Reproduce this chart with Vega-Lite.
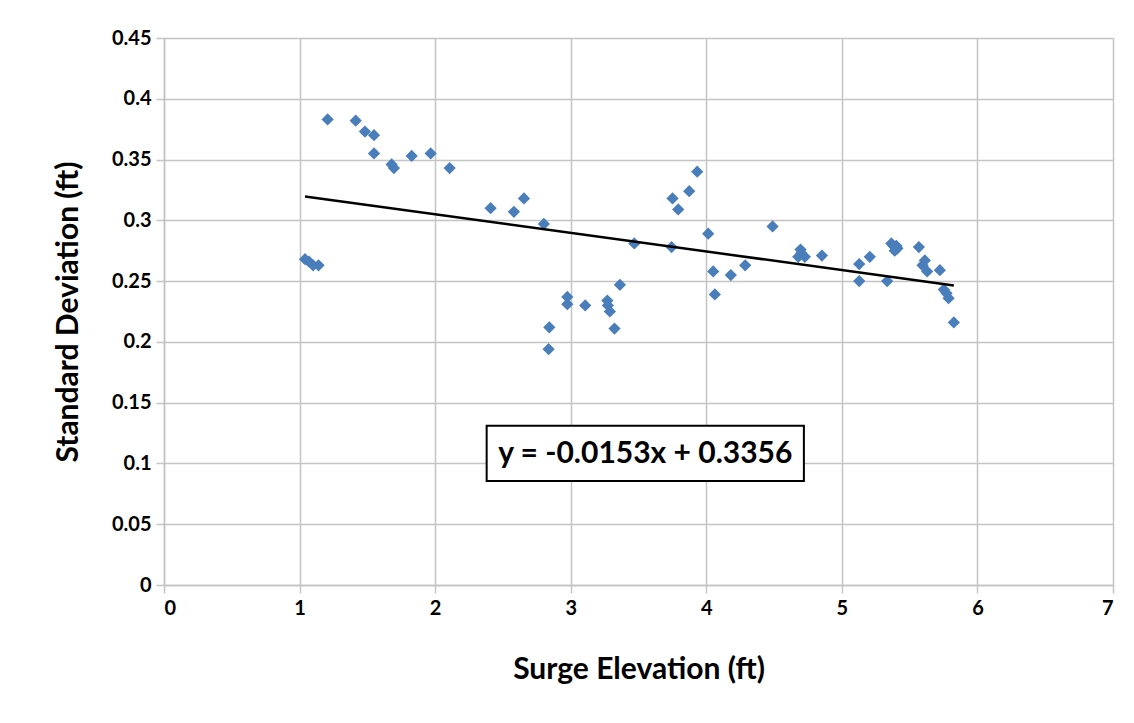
{
  "$schema": "https://vega.github.io/schema/vega-lite/v6.json",
  "autosize": "none",
  "width": 949,
  "height": 547,
  "padding": {"left": 164, "top": 38, "right": 21, "bottom": 138},
  "background": "white",
  "config": {
    "view": {"stroke": null},
    "font": "Lato",
    "axis": {
      "gridColor": "#c4c4c4",
      "gridWidth": 1.5,
      "domainColor": "#c4c4c4",
      "domainWidth": 1.5,
      "tickColor": "#c4c4c4",
      "tickWidth": 1.5,
      "tickSize": 8,
      "labelFont": "Lato",
      "labelFontWeight": "bold",
      "labelFontSize": 20,
      "labelColor": "#000000",
      "labelExpr": "'' + datum.value",
      "titleFont": "Lato",
      "titleFontWeight": "bold",
      "titleFontSize": 30,
      "titleColor": "#000000"
    }
  },
  "datasets": {
    "points": [
      {"surge": 1.04, "sd": 0.268},
      {"surge": 1.07, "sd": 0.266},
      {"surge": 1.10, "sd": 0.263},
      {"surge": 1.14, "sd": 0.263},
      {"surge": 1.207, "sd": 0.383},
      {"surge": 1.414, "sd": 0.382},
      {"surge": 1.482, "sd": 0.373},
      {"surge": 1.549, "sd": 0.370},
      {"surge": 1.549, "sd": 0.355},
      {"surge": 1.679, "sd": 0.346},
      {"surge": 1.696, "sd": 0.343},
      {"surge": 1.827, "sd": 0.353},
      {"surge": 1.967, "sd": 0.355},
      {"surge": 2.107, "sd": 0.343},
      {"surge": 2.409, "sd": 0.310},
      {"surge": 2.581, "sd": 0.307},
      {"surge": 2.655, "sd": 0.318},
      {"surge": 2.802, "sd": 0.297},
      {"surge": 2.842, "sd": 0.212},
      {"surge": 2.837, "sd": 0.194},
      {"surge": 2.975, "sd": 0.237},
      {"surge": 2.975, "sd": 0.231},
      {"surge": 3.107, "sd": 0.230},
      {"surge": 3.270, "sd": 0.234},
      {"surge": 3.274, "sd": 0.230},
      {"surge": 3.289, "sd": 0.225},
      {"surge": 3.323, "sd": 0.211},
      {"surge": 3.363, "sd": 0.247},
      {"surge": 3.469, "sd": 0.281},
      {"surge": 3.744, "sd": 0.278},
      {"surge": 3.751, "sd": 0.318},
      {"surge": 3.793, "sd": 0.309},
      {"surge": 3.874, "sd": 0.324},
      {"surge": 3.933, "sd": 0.340},
      {"surge": 4.014, "sd": 0.289},
      {"surge": 4.051, "sd": 0.258},
      {"surge": 4.063, "sd": 0.239},
      {"surge": 4.181, "sd": 0.255},
      {"surge": 4.287, "sd": 0.263},
      {"surge": 4.489, "sd": 0.295},
      {"surge": 4.678, "sd": 0.270},
      {"surge": 4.695, "sd": 0.276},
      {"surge": 4.701, "sd": 0.273},
      {"surge": 4.727, "sd": 0.270},
      {"surge": 4.853, "sd": 0.271},
      {"surge": 5.128, "sd": 0.264},
      {"surge": 5.128, "sd": 0.250},
      {"surge": 5.206, "sd": 0.270},
      {"surge": 5.334, "sd": 0.250},
      {"surge": 5.365, "sd": 0.281},
      {"surge": 5.380, "sd": 0.279},
      {"surge": 5.390, "sd": 0.275},
      {"surge": 5.402, "sd": 0.279},
      {"surge": 5.410, "sd": 0.277},
      {"surge": 5.568, "sd": 0.278},
      {"surge": 5.595, "sd": 0.263},
      {"surge": 5.612, "sd": 0.267},
      {"surge": 5.629, "sd": 0.258},
      {"surge": 5.723, "sd": 0.259},
      {"surge": 5.752, "sd": 0.243},
      {"surge": 5.772, "sd": 0.240},
      {"surge": 5.787, "sd": 0.236},
      {"surge": 5.826, "sd": 0.216}
    ],
    "trend": [
      {"surge": 1.04, "sd": 0.319688},
      {"surge": 5.826, "sd": 0.246462}
    ],
    "equation": [
      {"x0": 2.38, "x1": 4.72, "y0": 0.0855, "y1": 0.131, "xc": 3.55, "yc": 0.1075, "label": "y = -0.0153x + 0.3356"}
    ]
  },
  "layer": [
    {
      "data": {"name": "points"},
      "mark": {"type": "point", "shape": "diamond", "filled": true, "size": 150, "color": "#4a7ebb", "opacity": 1},
      "encoding": {
        "x": {
          "field": "surge", "type": "quantitative",
          "scale": {"domain": [0, 7], "nice": false},
          "axis": {"values": [0, 1, 2, 3, 4, 5, 6, 7], "title": "Surge Elevation (ft)", "labelPadding": 5, "titlePadding": 36}
        },
        "y": {
          "field": "sd", "type": "quantitative",
          "scale": {"domain": [0, 0.45], "nice": false},
          "axis": {"values": [0, 0.05, 0.1, 0.15, 0.2, 0.25, 0.3, 0.35, 0.4, 0.45], "title": "Standard Deviation (ft)", "labelPadding": 5, "titlePadding": 28}
        }
      }
    },
    {
      "data": {"name": "trend"},
      "mark": {"type": "line", "color": "#000000", "strokeWidth": 2.5},
      "encoding": {
        "x": {"field": "surge", "type": "quantitative"},
        "y": {"field": "sd", "type": "quantitative"}
      }
    },
    {
      "data": {"name": "equation"},
      "mark": {"type": "rect", "fill": "white", "stroke": "#000000", "strokeWidth": 2},
      "encoding": {
        "x": {"field": "x0", "type": "quantitative"},
        "x2": {"field": "x1"},
        "y": {"field": "y0", "type": "quantitative"},
        "y2": {"field": "y1"}
      }
    },
    {
      "data": {"name": "equation"},
      "mark": {"type": "text", "font": "Lato", "fontWeight": "bold", "fontSize": 30, "color": "#000000", "align": "center", "baseline": "middle"},
      "encoding": {
        "x": {"field": "xc", "type": "quantitative"},
        "y": {"field": "yc", "type": "quantitative"},
        "text": {"field": "label"}
      }
    }
  ]
}
